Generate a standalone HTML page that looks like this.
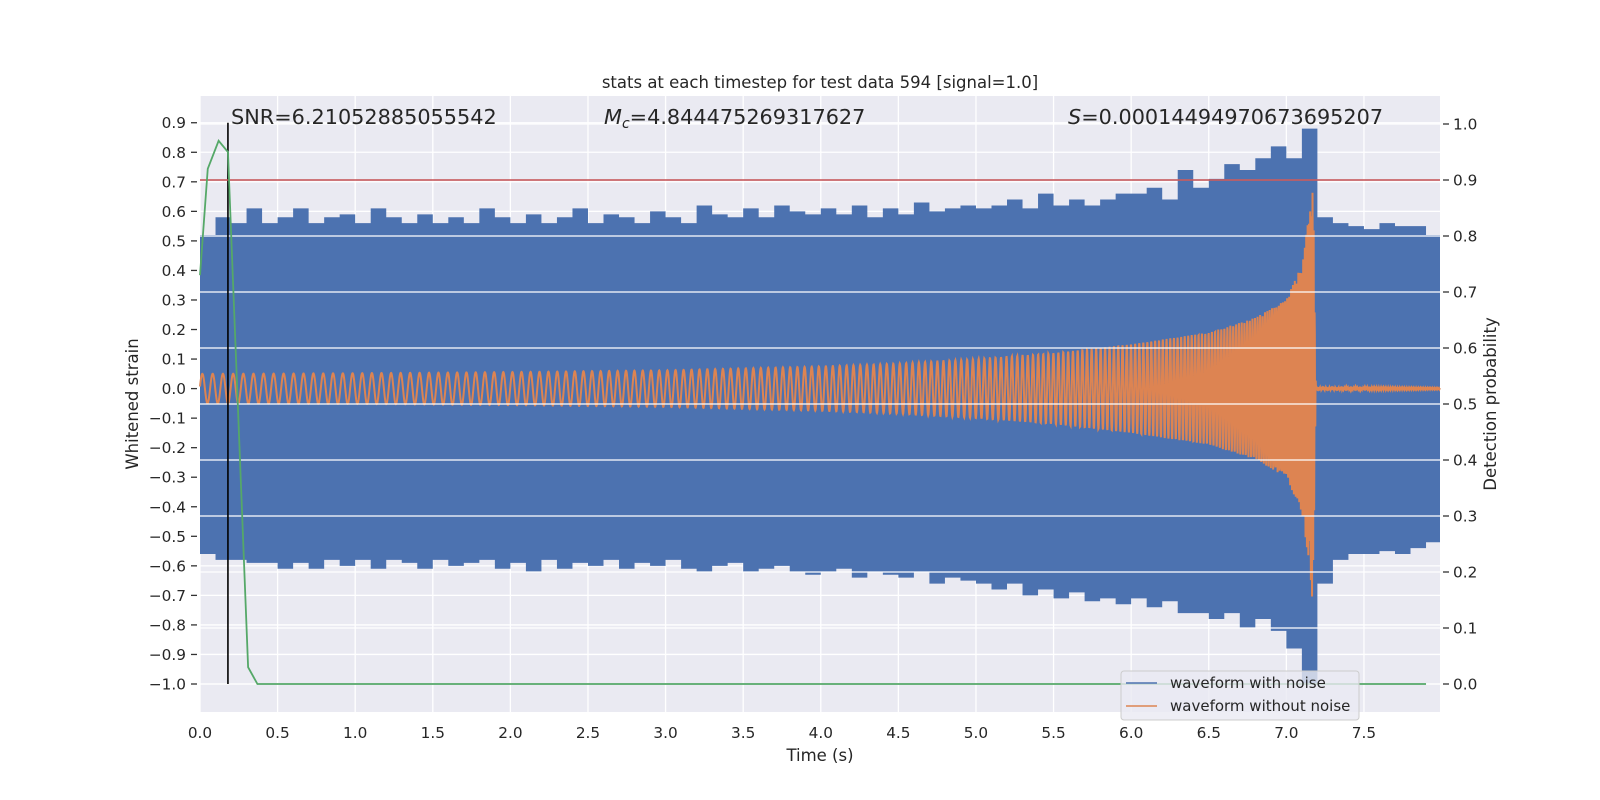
<!DOCTYPE html>
<html><head><meta charset="utf-8"><style>
html,body{margin:0;padding:0;background:#fff;}
svg{display:block;font-family:"DejaVu Sans","Liberation Sans",sans-serif;}
</style></head><body>
<svg id="chart" width="1600" height="800" viewBox="0 0 1600 800"></svg>
<script>
// ---- data ----
const xTicks = [0.0,0.5,1.0,1.5,2.0,2.5,3.0,3.5,4.0,4.5,5.0,5.5,6.0,6.5,7.0,7.5];
const leftTicks = [0.9,0.8,0.7,0.6,0.5,0.4,0.3,0.2,0.1,0.0,-0.1,-0.2,-0.3,-0.4,-0.5,-0.6,-0.7,-0.8,-0.9,-1.0];
const rightTicks = [0.0,0.1,0.2,0.3,0.4,0.5,0.6,0.7,0.8,0.9,1.0];
const noiseTimes = [];
for (let i=0;i<80;i++) noiseTimes.push(i/10);
const noiseMax = [0.52,0.58,0.56,0.61,0.56,0.58,0.61,0.56,0.58,0.59,
 0.56,0.61,0.58,0.56,0.59,0.56,0.58,0.56,0.61,0.58,
 0.56,0.59,0.56,0.58,0.61,0.56,0.59,0.58,0.56,0.6,
 0.58,0.56,0.62,0.59,0.58,0.61,0.58,0.62,0.6,0.59,
 0.61,0.59,0.62,0.58,0.61,0.59,0.63,0.6,0.61,0.62,
 0.61,0.62,0.64,0.61,0.66,0.62,0.64,0.62,0.64,0.66,
 0.66,0.68,0.64,0.74,0.68,0.71,0.76,0.74,0.78,0.82,
 0.78,0.88,0.58,0.56,0.55,0.54,0.56,0.55,0.55,0.52];
const noiseMin = [-0.56,-0.58,-0.58,-0.59,-0.59,-0.61,-0.59,-0.61,-0.58,-0.6,
 -0.58,-0.61,-0.58,-0.59,-0.61,-0.58,-0.6,-0.59,-0.58,-0.61,
 -0.59,-0.62,-0.58,-0.61,-0.59,-0.6,-0.58,-0.61,-0.59,-0.6,
 -0.58,-0.61,-0.62,-0.6,-0.59,-0.62,-0.61,-0.6,-0.62,-0.63,
 -0.62,-0.61,-0.64,-0.62,-0.63,-0.64,-0.62,-0.66,-0.64,-0.65,
 -0.66,-0.68,-0.66,-0.7,-0.68,-0.71,-0.69,-0.72,-0.71,-0.73,
 -0.71,-0.74,-0.72,-0.76,-0.76,-0.78,-0.76,-0.81,-0.78,-0.82,
 -0.88,-1.0,-0.66,-0.58,-0.56,-0.56,-0.55,-0.56,-0.54,-0.52];
const chirpTimes = [0,1,2,3,4,4.5,5,5.5,6,6.5,6.8,7.0,7.1,7.15,7.17,7.18,7.19,7.99];
const chirpAmp   = [0.05,0.052,0.056,0.062,0.075,0.085,0.1,0.12,0.15,0.19,0.24,0.3,0.42,0.6,0.74,0.4,0.005,0.002];
const chirpFreq  = [15,16,17,19,22,24,27,31,37,47,60,75,95,120,140,150,150,150];
const probTimes = [0.0,0.05,0.12,0.18,0.31,0.37,1.0,2.0,3.0,4.0,5.0,6.0,7.0,7.9];
const probVals  = [0.73,0.92,0.97,0.95,0.03,0.0,0.0,0.0,0.0,0.0,0.0,0.0,0.0,0.0];
const threshold = 0.9;
const markerTime = 0.18;

// ---- axes ----
const X0=200,X1=1440,Y0=96,Y1=712;
const XMAX=7.99;
const sx = t => X0 + t*(X1-X0)/XMAX;
const syL = v => 684 - (v+1.0)*295.4;
const syR = v => 684 - v*560;
const NS="http://www.w3.org/2000/svg";
const svg=document.getElementById('chart');
function mk(tag,attrs,parent){const e=document.createElementNS(NS,tag);for(const k in attrs)e.setAttribute(k,attrs[k]);(parent||svg).appendChild(e);return e;}
function txt(s,attrs,parent){const e=mk('text',attrs,parent);e.textContent=s;return e;}

let e=mk('rect',{x:X0,y:Y0,width:X1-X0,height:Y1-Y0,fill:'#eaeaf2'});



xTicks.forEach(t=>{
  e=mk('line',{x1:sx(t),x2:sx(t),y1:Y0,y2:Y1,stroke:'#fff','stroke-width':1.3});
  
  
});
leftTicks.forEach(v=>{
  e=mk('line',{x1:X0,x2:X1,y1:syL(v),y2:syL(v),stroke:'#fff','stroke-width':1.3});
  
  
});

let pts=[];
noiseTimes.forEach((t,i)=>{pts.push(sx(t)+','+syL(noiseMax[i]));pts.push(sx(Math.min(t+0.1,XMAX))+','+syL(noiseMax[i]));});
for(let i=noiseTimes.length-1;i>=0;i--){pts.push(sx(Math.min(noiseTimes[i]+0.1,XMAX))+','+syL(noiseMin[i]));pts.push(sx(noiseTimes[i])+','+syL(noiseMin[i]));}
e=mk('polygon',{points:pts.join(' '),fill:'#4c72b0'});



function interp(xs,ys,x){if(x<=xs[0])return ys[0];for(let i=1;i<xs.length;i++){if(x<=xs[i]){const f=(x-xs[i-1])/(xs[i]-xs[i-1]);return ys[i-1]+f*(ys[i]-ys[i-1]);}}return ys[ys.length-1];}
let ph=0,d='';const dt=0.0015;
for(let t=0;t<=XMAX;t+=dt){
  const f=interp(chirpTimes,chirpFreq,t);ph+=2*Math.PI*f*dt;
  const v=interp(chirpTimes,chirpAmp,t)*Math.sin(ph);
  d+=(d?'L':'M')+sx(t).toFixed(2)+','+syL(v).toFixed(2);
}
e=mk('path',{d:d,fill:'none',stroke:'#dd8452','stroke-width':2});



rightTicks.forEach(v=>{
  e=mk('line',{x1:X0,x2:X1,y1:syR(v),y2:syR(v),stroke:'#fff','stroke-width':1.3});
  
  
});

e=mk('line',{x1:sx(markerTime),x2:sx(markerTime),y1:syL(0.9),y2:syL(-1.0),stroke:'#000','stroke-width':1.6});



e=mk('line',{x1:X0,x2:X1,y1:syR(threshold),y2:syR(threshold),stroke:'#c44e52','stroke-width':1.6});



e=mk('polyline',{points:probTimes.map((t,i)=>sx(t)+','+syR(probVals[i])).join(' '),fill:'none',stroke:'#55a868','stroke-width':1.8});



xTicks.forEach(t=>{
  e=txt(t.toFixed(1),{x:sx(t),y:738,'text-anchor':'middle','font-size':15.3,fill:'#262626'});
  
  
});
leftTicks.forEach(v=>{
  mk('line',{x1:191,x2:197,y1:syL(v),y2:syL(v),stroke:'#333','stroke-width':1.3});
  e=txt((v<0?'\u2212'+Math.abs(v).toFixed(1):v.toFixed(1)),{x:186,y:syL(v)+5.5,'text-anchor':'end','font-size':15.3,fill:'#262626'});
  
  
});
rightTicks.forEach(v=>{
  mk('line',{x1:1443,x2:1449,y1:syR(v),y2:syR(v),stroke:'#333','stroke-width':1.3});
  e=txt(v.toFixed(1),{x:1453,y:syR(v)+5.5,'font-size':15.3,fill:'#262626'});
  
  
});
</script>
<div style="position:absolute;left:0;top:0;width:1600px;height:800px;pointer-events:none">
<svg width="1600" height="800" style="position:absolute;left:0;top:0;font-family:'DejaVu Sans','Liberation Sans',sans-serif">
<text x="820" y="88" text-anchor="middle" font-size="16.5" fill="#262626">stats at each timestep for test data 594 [signal=1.0]</text>
<text x="231" y="124" font-size="20.8" fill="#262626">SNR=6.21052885055542</text>
<text x="604" y="124" font-size="20.8" fill="#262626"><tspan font-style="italic">M</tspan><tspan font-style="italic" font-size="14" dy="4">c</tspan><tspan dy="-4">=4.844475269317627</tspan></text>
<text x="1068" y="124" font-size="20.8" fill="#262626"><tspan font-style="italic">S</tspan>=0.00014494970673695207</text>
<text x="820" y="761" text-anchor="middle" font-size="16.5" fill="#262626">Time (s)</text>
<text transform="translate(138,404) rotate(-90)" text-anchor="middle" font-size="16.5" fill="#262626">Whitened strain</text>
<text transform="translate(1496,404) rotate(-90)" text-anchor="middle" font-size="16.5" fill="#262626">Detection probability</text>
<g>
<rect x="1121" y="671" width="238" height="49" rx="3" fill="#eaeaf2" fill-opacity="0.8" stroke="#cccccc"/>
<line x1="1126" x2="1157" y1="683" y2="683" stroke="#4c72b0" stroke-width="1.6"/>
<text x="1170" y="688" font-size="15" fill="#262626">waveform with noise</text>
<line x1="1126" x2="1157" y1="706" y2="706" stroke="#dd8452" stroke-width="1.6"/>
<text x="1170" y="711" font-size="15" fill="#262626">waveform without noise</text>
</g>
</svg></div>
</body></html>
